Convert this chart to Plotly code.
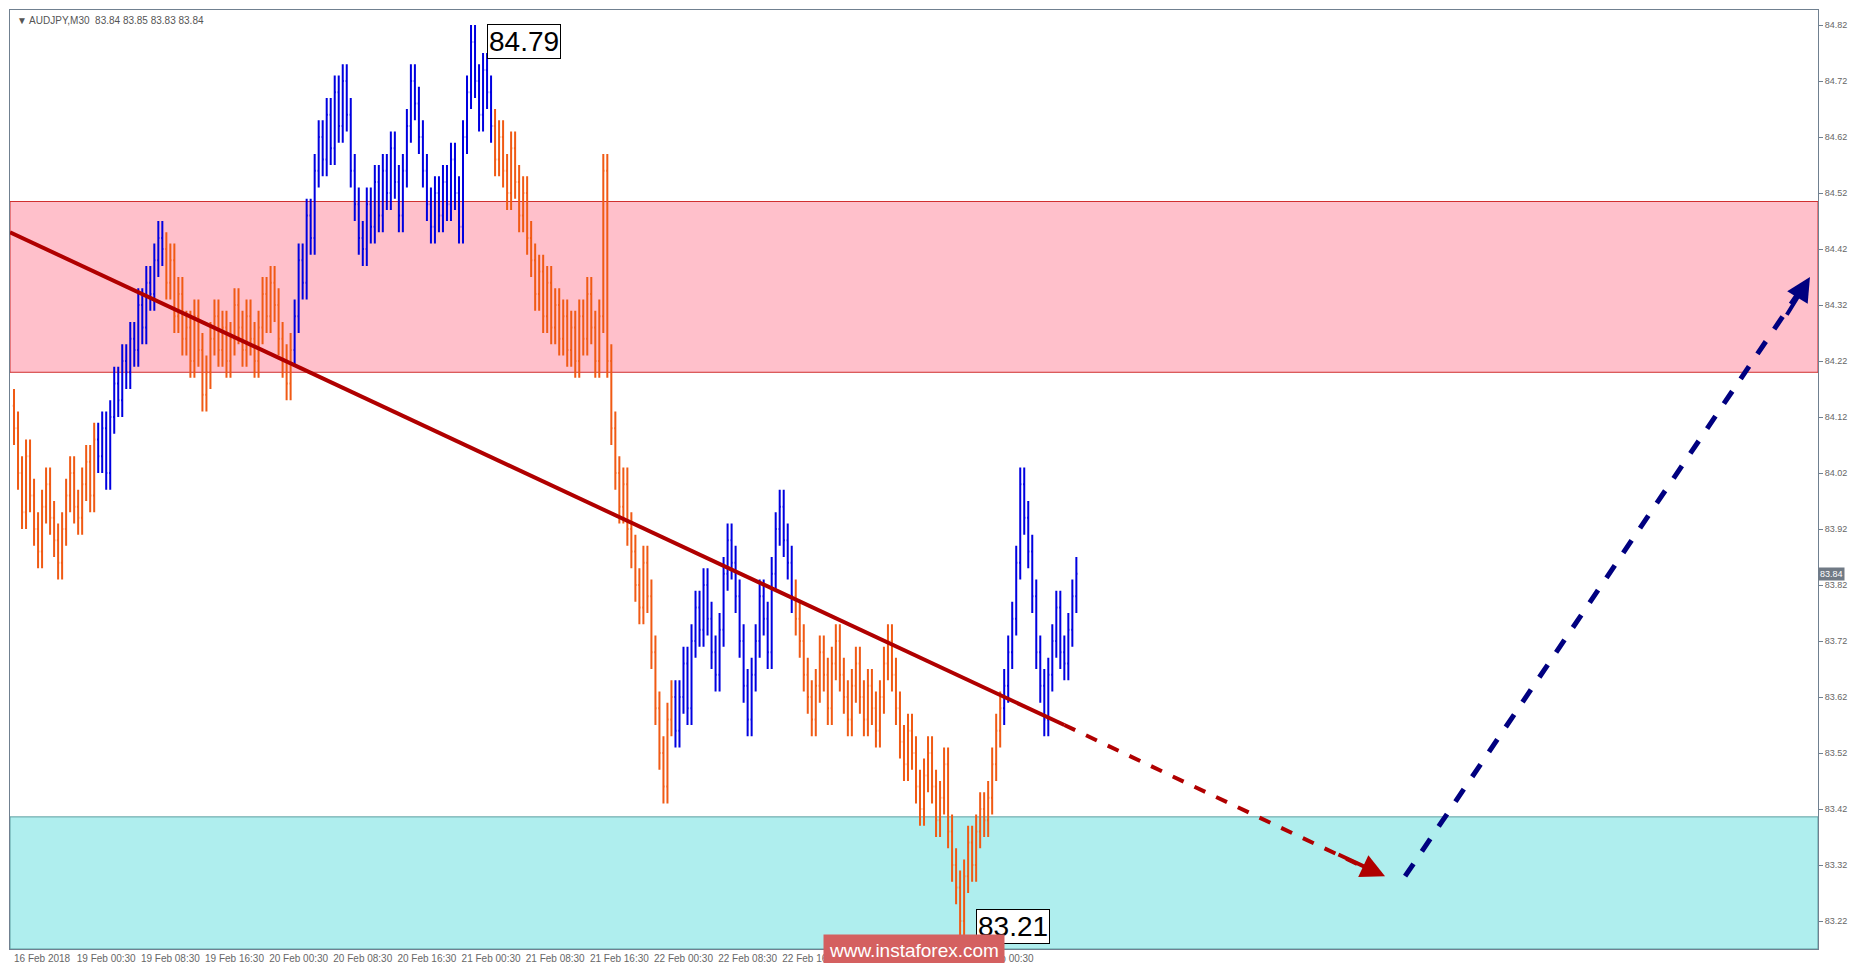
import plotly.graph_objects as go

seg_a = [84.10,84.02,83.95,84.05,83.98,83.92,83.88,83.96,84.00,83.94,83.90,83.86,83.92,83.98,84.02,83.96,83.94,84.00,84.04,83.98,84.08]
seg_b = [84.05,84.10,84.02,84.12,84.18,84.15,84.22,84.20,84.26,84.24,84.32,84.28,84.36,84.34,84.40,84.44,84.42]
seg_c = [84.36,84.40,84.30,84.34,84.26,84.28,84.22,84.30,84.24,84.16,84.20,84.26,84.30,84.24,84.28,84.22,84.26,84.32,84.28,84.24,84.30,84.26,84.22,84.28,84.34,84.30,84.36,84.32,84.26,84.22,84.18,84.24]
seg_d = [84.30,84.40,84.36,84.48,84.44,84.56,84.62,84.58,84.66,84.60,84.70,84.64,84.72,84.66,84.56,84.50,84.44,84.42,84.50,84.46,84.54,84.48,84.56,84.52,84.60,84.54,84.48,84.56,84.64,84.72,84.68,84.62,84.56,84.50,84.46,84.52,84.48,84.54,84.50,84.58,84.52,84.46,84.62,84.70,84.79,84.72,84.66,84.74,84.70,84.64]
seg_e = [84.58,84.62,84.56,84.52,84.60,84.54,84.48,84.52,84.44,84.40,84.34,84.38,84.30,84.36,84.28,84.32,84.26,84.30,84.24,84.28,84.22,84.30,84.26,84.34,84.28,84.22,84.30,84.56,84.22,84.10,84.02,83.96,84.00,83.92,83.88,83.82,83.78,83.86,83.80,83.70,83.60,83.52,83.46,83.58,83.62]
seg_f = [83.56,83.62,83.68,83.60,83.72,83.78,83.74,83.82,83.76,83.70,83.66,83.74,83.84,83.90,83.86,83.80,83.72,83.64,83.58,83.66,83.72,83.80,83.76,83.70,83.84,83.92,83.96,83.90,83.86,83.80]
seg_g = [83.76,83.72,83.66,83.62,83.58,83.64,83.70,83.66,83.60,83.68,83.72,83.66,83.62,83.58,83.64,83.68,83.62,83.58,83.64,83.60,83.56,83.62,83.68,83.72,83.66,83.60,83.54,83.50,83.56,83.52,83.46,83.42,83.48,83.52,83.46,83.40,83.44,83.50,83.38,83.32,83.28,83.22,83.30,83.36,83.32,83.38,83.42,83.40,83.44,83.50,83.56,83.60]
seg_h = [83.64,83.70,83.76,83.86,84.00,83.94,83.88,83.80,83.70,83.64,83.58,83.66,83.72,83.78,83.70,83.68,83.74,83.80,83.84]
segments = [("o", seg_a), ("b", seg_b), ("o", seg_c), ("b", seg_d), ("o", seg_e), ("b", seg_f), ("o", seg_g), ("b", seg_h)]

tick_labels = ["16 Feb 2018","19 Feb 00:30","19 Feb 08:30","19 Feb 16:30","20 Feb 00:30","20 Feb 08:30","20 Feb 16:30",
               "21 Feb 00:30","21 Feb 08:30","21 Feb 16:30","22 Feb 00:30","22 Feb 08:30","22 Feb 16:30","2",
               "","26 Feb 00:30"]
price_ticks = [84.82,84.72,84.62,84.52,84.42,84.32,84.22,84.12,84.02,83.92,83.82,83.72,83.62,83.52,83.42,83.32,83.22]
pink_zone = (84.20, 84.505)
cyan_zone = (83.17, 83.406)
trend = ((-1, 84.45), (262, 83.57))
trend_ext = (342, 83.30)
up_arrow = ((347, 83.30), (448, 84.37))

closes, colors = [], []
for c, s in segments:
    closes += s
    colors += [c] * len(s)
x_all = list(range(len(closes)))
opens = [closes[0] + 0.04] + closes[:-1]
highs = [max(o, c) + 0.03 for o, c in zip(opens, closes)]
lows = [min(o, c) - 0.03 for o, c in zip(opens, closes)]

fig = go.Figure()
for tag, col in (("b", "#0000e0"), ("o", "#f05a14")):
    idx = [i for i in x_all if colors[i] == tag]
    fig.add_trace(go.Ohlc(x=idx, open=[opens[i] for i in idx], high=[highs[i] for i in idx],
                          low=[lows[i] for i in idx], close=[closes[i] for i in idx],
                          increasing=dict(line=dict(color=col, width=2)),
                          decreasing=dict(line=dict(color=col, width=2)),
                          tickwidth=0.3, showlegend=False, hoverinfo="skip"))

fig.add_shape(type="rect", xref="paper", x0=0, x1=1, y0=pink_zone[0], y1=pink_zone[1],
              fillcolor="#ffc0cb", line=dict(color="#d03030", width=1), layer="below")
fig.add_shape(type="rect", xref="paper", x0=0, x1=1, y0=cyan_zone[0], y1=cyan_zone[1],
              fillcolor="#afeeee", line=dict(color="#5f9ea0", width=1), layer="below")
fig.add_shape(type="line", x0=trend[0][0], y0=trend[0][1], x1=trend[1][0], y1=trend[1][1],
              line=dict(color="#b00000", width=4))
fig.add_shape(type="line", x0=trend[1][0], y0=trend[1][1], x1=trend_ext[0]-4, y1=trend_ext[1]+0.012,
              line=dict(color="#b00000", width=4, dash="dash"))
fig.add_annotation(x=trend_ext[0], y=trend_ext[1], ax=trend_ext[0]-12, ay=trend_ext[1]+0.04,
                   xref="x", yref="y", axref="x", ayref="y", text="", showarrow=True,
                   arrowhead=2, arrowsize=1.2, arrowwidth=4, arrowcolor="#b00000")
fig.add_shape(type="line", x0=up_arrow[0][0], y0=up_arrow[0][1], x1=up_arrow[1][0]-3, y1=up_arrow[1][1]-0.03,
              line=dict(color="#000080", width=5, dash="dash"))
fig.add_annotation(x=up_arrow[1][0], y=up_arrow[1][1], ax=up_arrow[1][0]-6, ay=up_arrow[1][1]-0.07,
                   xref="x", yref="y", axref="x", ayref="y", text="", showarrow=True,
                   arrowhead=2, arrowsize=1.2, arrowwidth=4, arrowcolor="#000080")

fig.add_annotation(x=118, y=84.79, text="84.79", showarrow=False, xanchor="left", yanchor="middle",
                   font=dict(family="Liberation Sans", size=28, color="black"),
                   bordercolor="black", borderwidth=1, bgcolor="white", borderpad=1)
fig.add_annotation(x=240, y=83.21, text="83.21", showarrow=False, xanchor="left", yanchor="middle",
                   font=dict(family="Liberation Sans", size=28, color="black"),
                   bordercolor="black", borderwidth=1, bgcolor="white", borderpad=1)
fig.add_annotation(xref="paper", yref="paper", x=0.003, y=0.997, text="▼ AUDJPY,M30  83.84 83.85 83.83 83.84",
                   showarrow=False, xanchor="left", yanchor="top",
                   font=dict(family="Liberation Sans", size=10, color="#555"))
fig.add_annotation(xref="paper", yref="paper", x=0.5, y=-0.002, text="www.instaforex.com", showarrow=False,
                   xanchor="center", yanchor="middle", bgcolor="#d46060", font=dict(family="Liberation Sans", size=19, color="white"),
                   borderpad=5)
fig.add_annotation(xref="paper", x=1.0, y=83.84, text="83.84", showarrow=False, xanchor="left",
                   bgcolor="#707a85", font=dict(family="Liberation Sans", size=9, color="white"), borderpad=1)

fig.update_layout(width=1856, height=963, margin=dict(l=2, r=46, t=2, b=22),
                  paper_bgcolor="white", plot_bgcolor="white",
                  xaxis=dict(range=[-1, 450], rangeslider=dict(visible=False), showgrid=False, zeroline=False,
                             tickvals=[16*k + 7 for k in range(len(tick_labels))], ticktext=tick_labels,
                             tickfont=dict(family="Liberation Sans Narrow, Liberation Sans", size=10, color="#666"),
                             showline=True, linecolor="#708090", mirror=True, automargin=False),
                  yaxis=dict(range=[83.17, 84.847], side="right", tickvals=price_ticks,
                             ticktext=[f"{v:.2f}" for v in price_ticks], showgrid=False, zeroline=False,
                             ticks="outside", ticklen=4, tickcolor="#708090", automargin=False,
                             tickfont=dict(family="Liberation Sans", size=9, color="#666"),
                             showline=True, linecolor="#708090", mirror=True))
fig.write_html("out.html")
